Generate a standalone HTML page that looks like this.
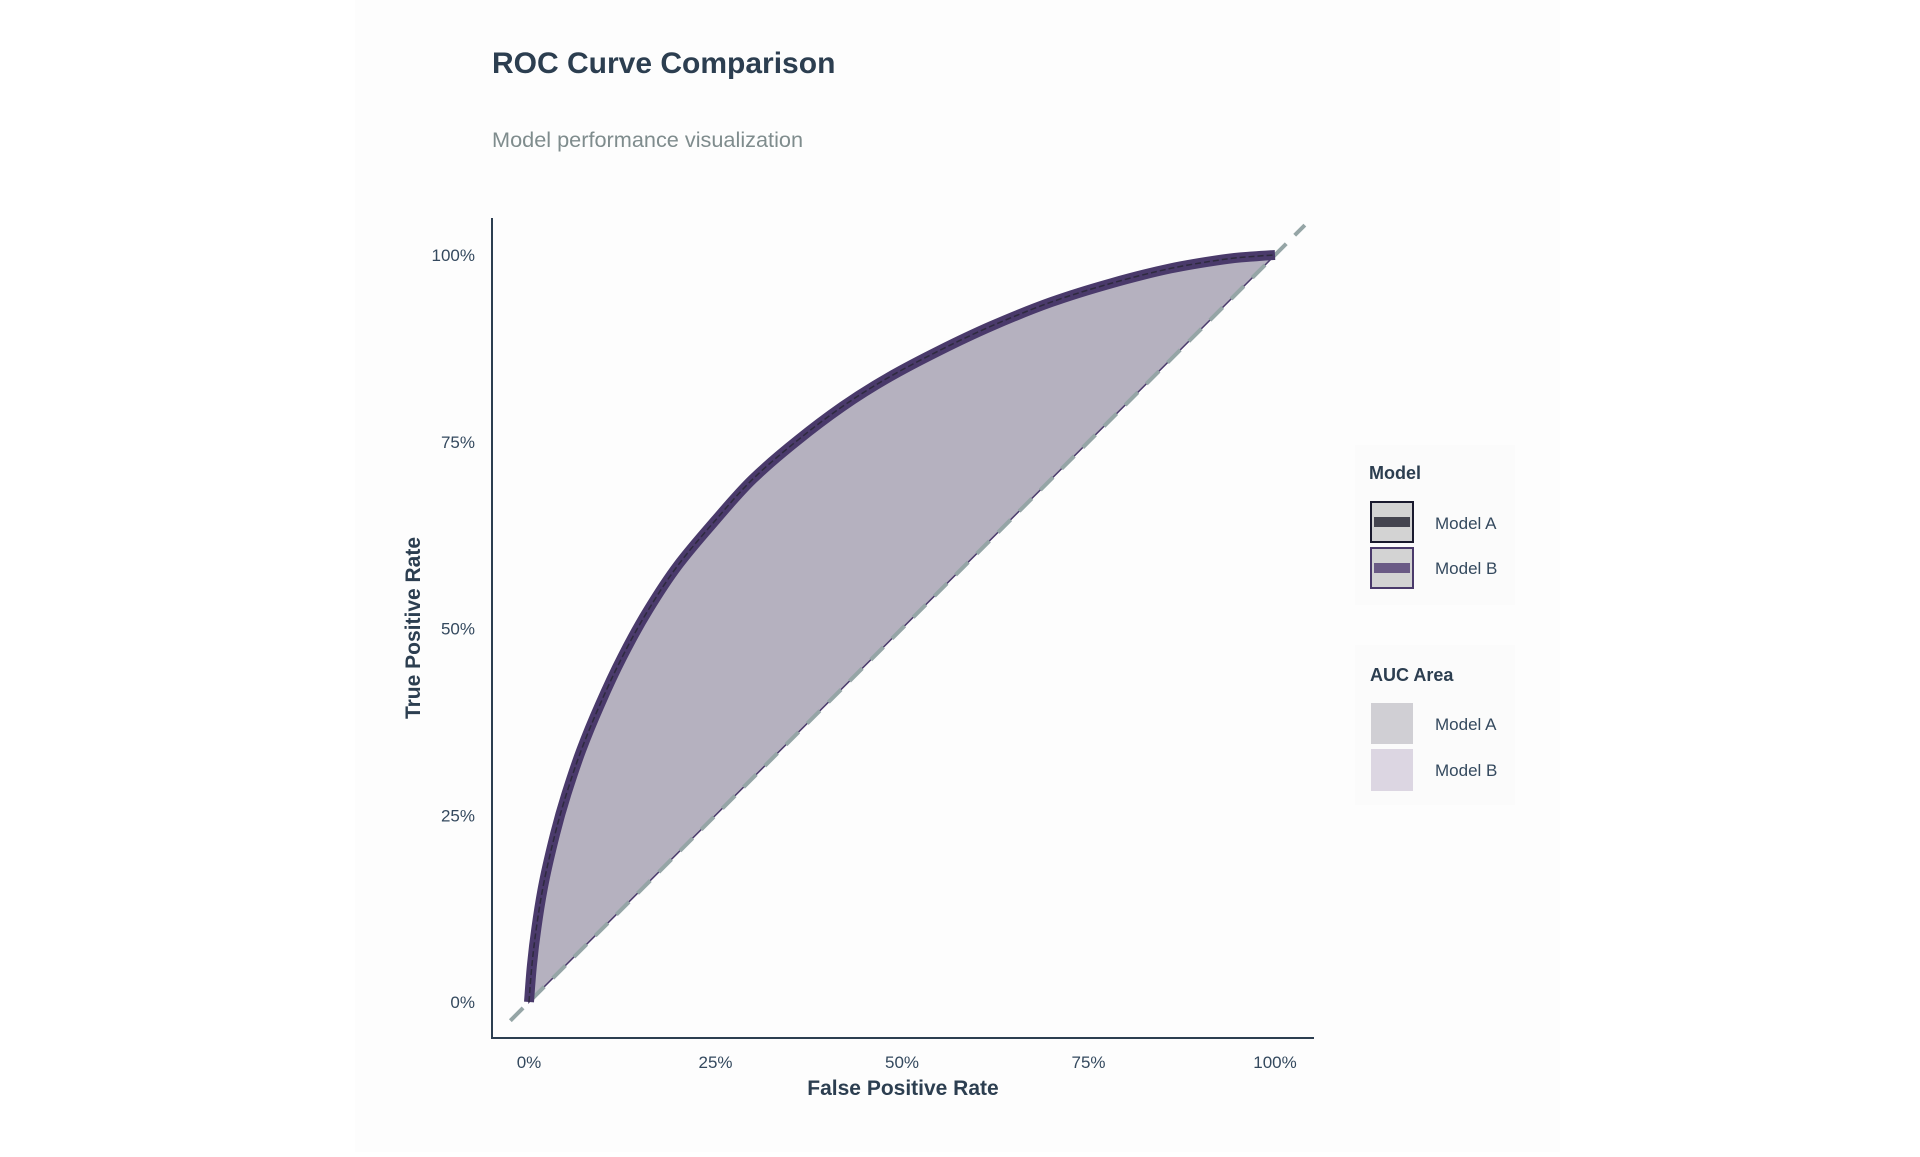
<!DOCTYPE html>
<html><head><meta charset="utf-8"><style>
html,body{margin:0;padding:0;background:#fff;}
body{width:1920px;height:1152px;overflow:hidden;font-family:"Liberation Sans",sans-serif;}
</style></head><body>
<svg id="chart" width="1920" height="1152" viewBox="0 0 1920 1152" xmlns="http://www.w3.org/2000/svg">
<rect x="355" y="0" width="1205" height="1152" fill="#fdfdfd"/>
<text x="492" y="73" font-size="30" font-weight="bold" fill="#2c3e50">ROC Curve Comparison</text>
<text x="492" y="147" font-size="21.7" fill="#7f8c8d">Model performance visualization</text>
<g id="plot"></g>
<g>
<rect x="1355" y="445" width="160" height="160" fill="#fbfbfb"/>
<text x="1369" y="479" font-size="18" font-weight="bold" fill="#2c3e50">Model</text>
<g>
<rect x="1371" y="502" width="42" height="40" fill="#d3d3d3" stroke="#1a1a2e" stroke-width="2"/>
<rect x="1374" y="517" width="36" height="10" fill="#44444f"/>
<text x="1435" y="529" font-size="17" fill="#34495e">Model A</text></g>
<g>
<rect x="1371" y="548" width="42" height="40" fill="#d3d3d3" stroke="#4a3a6b" stroke-width="2"/>
<rect x="1374" y="563" width="36" height="10" fill="#6a5a85"/>
<text x="1435" y="574" font-size="17" fill="#34495e">Model B</text></g>
</g>
<g>
<rect x="1355" y="645" width="160" height="160" fill="#fbfbfb"/>
<text x="1370" y="681" font-size="18" font-weight="bold" fill="#2c3e50">AUC Area</text>
<g>
<rect x="1371" y="703" width="42" height="41" fill="#d0cfd4"/>
<text x="1435" y="730" font-size="17" fill="#34495e">Model A</text></g>
<g>
<rect x="1371" y="749" width="42" height="42" fill="#dcd6e2"/>
<text x="1435" y="776" font-size="17" fill="#34495e">Model B</text></g>
</g>
</svg>
<script>
const fprValues = [0, 0.004, 0.01, 0.02, 0.035, 0.05, 0.07, 0.095, 0.125, 0.16, 0.2, 0.25, 0.3, 0.36, 0.42, 0.48, 0.55, 0.62, 0.7, 0.78, 0.86, 0.93, 0.97, 1.0];
const tprModelA = [0, 0.05, 0.1, 0.16, 0.225, 0.278, 0.337, 0.398, 0.462, 0.525, 0.585, 0.645, 0.7, 0.752, 0.797, 0.835, 0.872, 0.905, 0.937, 0.962, 0.982, 0.994, 0.998, 1.0];
const tprModelB = [0, 0.05, 0.1, 0.16, 0.225, 0.278, 0.337, 0.398, 0.462, 0.525, 0.585, 0.645, 0.7, 0.752, 0.797, 0.835, 0.872, 0.905, 0.937, 0.962, 0.982, 0.994, 0.998, 1.0];
const tickValues = [0, 0.25, 0.5, 0.75, 1];
const tickLabels = ["0%", "25%", "50%", "75%", "100%"];
const diagonalRange = [-0.025, 1.04];

const NS = "http://www.w3.org/2000/svg";
const plot = document.getElementById("plot");
const X0 = 529, X1 = 1275, Y0 = 1002, Y1 = 255;
function xs(v){ return X0 + v * (X1 - X0); }
function ys(v){ return Y0 - v * (Y0 - Y1); }
function mk(tag, attrs){ const e = document.createElementNS(NS, tag); for (const k in attrs) e.setAttribute(k, attrs[k]); plot.appendChild(e); return e; }

let ax = mk("line", {x1:492, y1:218, x2:492, y2:1039, stroke:"#2c3e50", "stroke-width":2});


ax = mk("line", {x1:491, y1:1038, x2:1314, y2:1038, stroke:"#2c3e50", "stroke-width":2});



tickValues.forEach((v, i) => {
  const tx = mk("text", {x: xs(v), y: 1068, "font-size":17, fill:"#34495e", "text-anchor":"middle"});
  tx.textContent = tickLabels[i];
  
  
  const ty = mk("text", {x: 475, y: ys(v) + 6, "font-size":17, fill:"#34495e", "text-anchor":"end"});
  ty.textContent = tickLabels[i];
  
  
});
let t = mk("text", {x:903, y:1095, "font-size":21, "font-weight":"bold", fill:"#2c3e50", "text-anchor":"middle"});
t.textContent = "False Positive Rate";


t = mk("text", {x:0, y:0, "font-size":21, "font-weight":"bold", fill:"#2c3e50", "text-anchor":"middle", transform:"translate(420,628) rotate(-90)"});
t.textContent = "True Positive Rate";



function smoothPath(tpr){
  const p = fprValues.map((f, i) => [xs(f), ys(tpr[i])]);
  let d = "M" + p[0][0].toFixed(1) + "," + p[0][1].toFixed(1);
  for (let i = 0; i < p.length - 1; i++) {
    const p0 = p[Math.max(i - 1, 0)], p1 = p[i], p2 = p[i + 1], p3 = p[Math.min(i + 2, p.length - 1)];
    const c1x = p1[0] + (p2[0] - p0[0]) / 6, c1y = p1[1] + (p2[1] - p0[1]) / 6;
    const c2x = p2[0] - (p3[0] - p1[0]) / 6, c2y = p2[1] - (p3[1] - p1[1]) / 6;
    d += " C" + c1x.toFixed(1) + "," + c1y.toFixed(1) + " " + c2x.toFixed(1) + "," + c2y.toFixed(1) + " " + p2[0].toFixed(1) + "," + p2[1].toFixed(1);
  }
  return d;
}

let fa = mk("path", {d: smoothPath(tprModelA) + " Z", fill:"#c9c7cf", opacity:0.6});


let fb = mk("path", {d: smoothPath(tprModelB) + " Z", fill:"#b5b1bf", stroke:"#4a3a6b", "stroke-width":1.5});



let d = mk("line", {x1: xs(diagonalRange[0]), y1: ys(diagonalRange[0]), x2: xs(diagonalRange[1]), y2: ys(diagonalRange[1]), stroke:"#95a5a6", "stroke-width":4, "stroke-dasharray":"18,12"});



let lb = mk("path", {d: smoothPath(tprModelB), fill:"none", stroke:"#4a3a6b", "stroke-width":10});


let la = mk("path", {d: smoothPath(tprModelA), fill:"none", stroke:"#2e2a3e", "stroke-width":1.5, "stroke-dasharray":"6,3"});


</script>
</body></html>
